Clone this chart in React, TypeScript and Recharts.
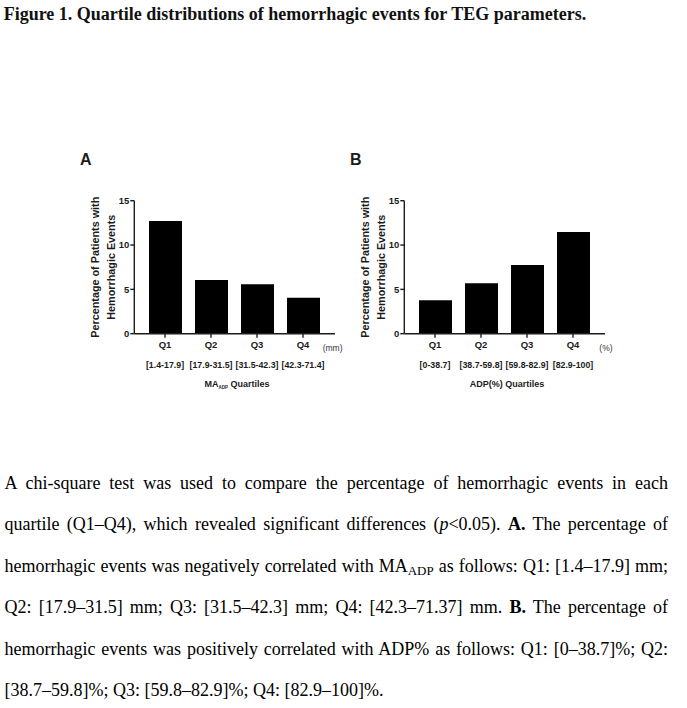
import React from "react";
import { BarChart, Bar, XAxis, YAxis } from "recharts";

// ---- data ----
const categories = ["Q1", "Q2", "Q3", "Q4"];
const rangesA = ["[1.4-17.9]", "[17.9-31.5]", "[31.5-42.3]", "[42.3-71.4]"];
const rangesB = ["[0-38.7]", "[38.7-59.8]", "[59.8-82.9]", "[82.9-100]"];
const valuesA = [12.7, 6.05, 5.57, 4.06];
const valuesB = [3.77, 5.68, 7.75, 11.47];
const yTicks = [0, 5, 10, 15];

const SANS = "'Liberation Sans', Arial, Helvetica, sans-serif";
const SERIF = "'Liberation Serif', 'Times New Roman', Times, serif";
const INK = "#1c1c1c";

const CH_W = 290;
const CH_H = 260;
const MARGIN = { top: 60.7, right: 25, bottom: 10, left: 14.3 };
const Y_W = 50;
const X_H = 56.3;
const PAD = { left: 7.7, right: 9 };
const AXIS_Y = CH_H - MARGIN.bottom - X_H;
const AXIS_X = MARGIN.left + Y_W;
const PLOT_R = CH_W - MARGIN.right;
const PLOT_CY = (MARGIN.top + AXIS_Y) / 2;

type PanelProps = {
  letter: string;
  left: number;
  values: number[];
  ranges: string[];
  unit: string;
  unitDx: number;
  title: React.ReactNode;
};

function Panel({ letter, left, values, ranges, unit, unitDx, title }: PanelProps) {
  const data = categories.map((c, i) => ({ cat: c, value: values[i], range: ranges[i] }));

  const XTick = (props: any) => {
    const { x, index } = props;
    return (
      <g>
        <text x={x} y={AXIS_Y + 14.3} textAnchor="middle" fontFamily={SANS} fontWeight="bold" fontSize={9.5} fill={INK}>
          {categories[index]}
        </text>
        <text x={x} y={AXIS_Y + 33.8} textAnchor="middle" fontFamily={SANS} fontWeight="bold" fontSize={8.8} fill={INK}>
          {ranges[index]}
        </text>
      </g>
    );
  };

  const xLabel = () => (
    <g>
      <text x={PLOT_R + unitDx} y={AXIS_Y + 17.3} fontFamily={SANS} fontSize={8.5} fill="#333">
        {unit}
      </text>
      <text x={AXIS_X + 102.8} y={AXIS_Y + 53} textAnchor="middle" fontFamily={SANS} fontWeight="bold" fontSize={9} fill={INK}>
        {title}
      </text>
    </g>
  );

  const yLabel = () => {
    const x1 = AXIS_X - 34.8;
    const x2 = AXIS_X - 19.5;
    const cy = PLOT_CY;
    return (
      <g>
        <text x={x1} y={cy} transform={`rotate(-90, ${x1}, ${cy})`} textAnchor="middle" fontFamily={SANS} fontWeight="bold" fontSize={10.8} fill={INK}>
          Percentage of Patients with
        </text>
        <text x={x2} y={cy} transform={`rotate(-90, ${x2}, ${cy})`} textAnchor="middle" fontFamily={SANS} fontWeight="bold" fontSize={10.8} fill={INK}>
          Hemorrhagic Events
        </text>
      </g>
    );
  };

  return (
    <>
      <div
        style={{
          position: "absolute",
          left: left + 10,
          top: 151.5,
          fontFamily: SANS,
          fontWeight: "bold",
          fontSize: 16,
          lineHeight: "16px",
          color: INK,
        }}
      >
        {letter}
      </div>
      <div style={{ position: "absolute", left, top: 140, width: CH_W, height: CH_H }}>
        <BarChart width={CH_W} height={CH_H} data={data} margin={MARGIN}>
          <XAxis
            dataKey="cat"
            height={X_H}
            padding={PAD}
            interval={0}
            tickSize={4}
            tickMargin={0}
            tick={<XTick />}
            axisLine={{ stroke: INK, strokeWidth: 1.4 }}
            tickLine={{ stroke: INK, strokeWidth: 1.4 }}
            label={xLabel}
          />
          <YAxis
            width={Y_W}
            domain={[0, 15]}
            ticks={yTicks}
            interval={0}
            tickSize={4}
            tickMargin={1}
            allowDecimals={false}
            tick={{ fontFamily: SANS, fontWeight: "bold", fontSize: 9.5, fill: INK }}
            axisLine={{ stroke: INK, strokeWidth: 1.4 }}
            tickLine={{ stroke: INK, strokeWidth: 1.4 }}
            label={yLabel}
          />
          <Bar dataKey="value" fill="#000" barSize={33} isAnimationActive={false} />
        </BarChart>
      </div>
    </>
  );
}

const lineStyle: React.CSSProperties = {
  height: 41.5,
  lineHeight: "41.5px",
  whiteSpace: "nowrap",
  textAlign: "justify",
  textAlignLast: "justify",
  overflow: "visible",
};

export default function App() {
  return (
    <div
      style={{
        position: "absolute",
        left: 0,
        top: 0,
        width: 687,
        height: 708,
        background: "#fff",
        overflow: "hidden",
      }}
    >
      <div
        style={{
          position: "absolute",
          left: 3.7,
          top: 4.4,
          fontFamily: SERIF,
          fontWeight: "bold",
          fontSize: 18,
          lineHeight: "20px",
          color: "#111",
          whiteSpace: "nowrap",
        }}
      >
        Figure 1. Quartile distributions of hemorrhagic events for TEG parameters.
      </div>

      <Panel
        letter="A"
        left={70}
        values={valuesA}
        ranges={rangesA}
        unit="(mm)"
        unitDx={-12.3}
        title={
          <>
            <tspan>MA</tspan>
            <tspan fontSize={4.5} dy={2}>ADP</tspan>
            <tspan dy={-2}>{"\u00a0Quartiles"}</tspan>
          </>
        }
      />
      <Panel
        letter="B"
        left={340}
        values={valuesB}
        ranges={rangesB}
        unit="(%)"
        unitDx={-5.7}
        title="ADP(%) Quartiles"
      />

      <div
        style={{
          position: "absolute",
          left: 4.5,
          top: 462.5,
          width: 663.5,
          fontFamily: SERIF,
          fontSize: 18,
          color: "#000",
        }}
      >
        <div style={lineStyle}>A chi-square test was used to compare the percentage of hemorrhagic events in each</div>
        <div style={lineStyle}>
          quartile (Q1–Q4), which revealed significant differences (<i>p</i>&lt;0.05). <b>A.</b> The percentage of
        </div>
        <div style={lineStyle}>
          hemorrhagic events was negatively correlated with MA
          <sub style={{ fontSize: 13, lineHeight: 0, verticalAlign: "-3px" }}>ADP</sub> as follows: Q1: [1.4–17.9] mm;
        </div>
        <div style={lineStyle}>
          Q2: [17.9–31.5] mm; Q3: [31.5–42.3] mm; Q4: [42.3–71.37] mm. <b>B.</b> The percentage of
        </div>
        <div style={lineStyle}>
          hemorrhagic events was positively correlated with ADP% as follows: Q1: [0–38.7]%; Q2:
        </div>
        <div style={{ ...lineStyle, textAlignLast: "left" }}>[38.7–59.8]%; Q3: [59.8–82.9]%; Q4: [82.9–100]%.</div>
      </div>
    </div>
  );
}
